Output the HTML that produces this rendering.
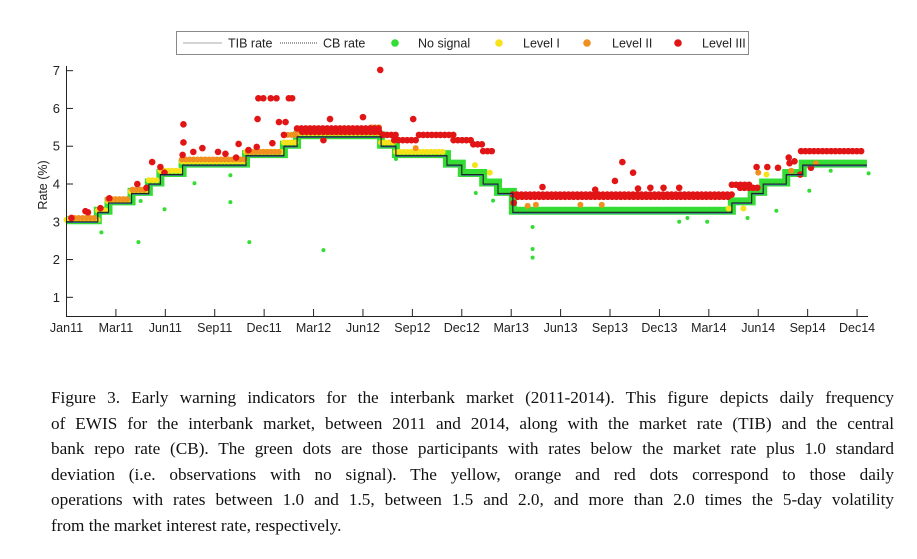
<!DOCTYPE html>
<html><head><meta charset="utf-8"><style>
body{margin:0;background:#fff;width:917px;height:559px;overflow:hidden;font-family:"Liberation Sans",sans-serif}
#cap{position:absolute;left:51px;top:385px;width:843px;font-family:"Liberation Serif",serif;font-size:17.2px;line-height:25.6px;color:#111}
#cap div{text-align:justify;text-align-last:justify;white-space:nowrap}
#cap div.last{text-align-last:left}
</style></head><body>
<svg id="chart" width="917" height="370" style="position:absolute;left:0;top:0" font-family="Liberation Sans, sans-serif"></svg>
<div id="cap">
<div>Figure 3. Early warning indicators for the interbank market (2011-2014). This figure depicts daily frequency</div>
<div>of EWIS for the interbank market, between 2011 and 2014, along with the market rate (TIB) and the central</div>
<div>bank repo rate (CB). The green dots are those participants with rates below the market rate plus 1.0 standard</div>
<div>deviation (i.e. observations with no signal). The yellow, orange and red dots correspond to those daily</div>
<div>operations with rates between 1.0 and 1.5, between 1.5 and 2.0, and more than 2.0 times the 5-day volatility</div>
<div class="last">from the market interest rate, respectively.</div>
</div>
<script>
const tickLabels=["Jan11","Mar11","Jun11","Sep11","Dec11","Mar12","Jun12","Sep12","Dec12","Mar13","Jun13","Sep13","Dec13","Mar14","Jun14","Sep14","Dec14"];
const yTicks=[1,2,3,4,5,6,7];
const cbStart=[0,1.9,2.55,3.95,5.0,5.7,7.05,10.9,13.2,14.0,19.1,20.0,23.1,24.0,25.3,26.2,27.1,40.4,41.6,42.3,43.7,44.7];
const cbRate=[3.0,3.25,3.5,3.75,4.0,4.25,4.5,4.75,5.0,5.25,5.0,4.75,4.5,4.25,4.0,3.75,3.25,3.5,3.75,4.0,4.25,4.5];
const cbEnd=48.6;
const redSegs=[[14.0,19.1,5.47],[14.3,19.1,5.38],[19.2,20.0,5.3],[19.9,21.4,5.16],[21.4,23.5,5.3],[23.5,24.7,5.16],[24.7,25.3,5.05],[25.3,25.9,4.87],[27.1,40.4,3.72],[27.4,40.2,3.66],[40.4,41.7,3.98],[40.9,42.0,3.9],[44.6,48.5,4.87]];
const redPts=[[0.3,3.1],[1.15,3.28],[1.3,3.25],[2.06,3.36],[2.6,3.62],[4.3,4.0],[4.86,3.9],[5.2,4.58],[5.7,4.45],[5.95,4.3],[7.1,5.58],[7.1,5.1],[7.05,4.77],[7.7,4.85],[8.25,4.95],[9.2,4.85],[9.65,4.8],[10.45,5.06],[10.3,4.7],[11.05,4.9],[11.6,5.72],[11.55,4.98],[12.5,5.08],[12.9,5.64],[13.3,5.64],[13.2,5.3],[16.0,5.72],[15.6,5.16],[18.0,5.77],[19.05,7.02],[21.05,5.72],[27.15,3.5],[28.9,3.92],[33.3,4.08],[33.75,4.58],[34.4,4.3],[41.9,4.45],[42.55,4.45],[43.2,4.43],[43.85,4.7],[44.55,4.25],[45.2,4.43],[11.65,6.27],[11.95,6.27],[12.4,6.27],[12.75,6.27],[13.5,6.27],[13.7,6.27],[35.45,3.9],[36.25,3.9],[37.2,3.9],[32.1,3.85],[34.7,3.88],[43.9,4.55],[44.2,4.6]];
const orangeSegs=[[0.5,1.8,3.1],[2.5,3.8,3.6],[4.0,4.8,3.85],[7.0,10.8,4.65],[11.0,13.0,4.85],[13.2,14.0,5.3],[14.0,19.1,5.42],[18.5,19.2,5.5]];
const orangePts=[[28.5,3.45],[31.2,3.45],[32.5,3.45],[28.0,3.42],[21.2,4.95],[42.0,4.3],[44.0,4.35],[45.5,4.55]];
const yellowSegs=[[0,1.9,3.05],[1.9,2.5,3.3],[2.5,3.9,3.55],[3.9,5.0,3.8],[5.0,5.7,4.1],[5.7,7.0,4.35],[7.0,10.9,4.6],[10.9,13.2,4.85],[13.2,14.0,5.1],[14.0,19.1,5.35],[19.1,20,5.1],[20,23,4.85]];
const yellowPts=[[40.2,3.35],[41.1,3.35],[24.8,4.5],[25.7,4.3],[42.5,4.25]];
const greenPts=[[2.12,2.72],[4.37,2.46],[4.5,3.55],[5.95,3.33],[7.77,4.02],[9.95,4.23],[9.95,3.52],[11.1,2.46],[15.6,2.25],[20.0,4.66],[24.85,3.76],[25.9,3.56],[28.3,2.86],[28.3,2.28],[28.3,2.05],[37.2,3.0],[37.7,3.1],[38.9,3.0],[41.35,3.1],[43.1,3.29],[45.1,3.82],[46.4,4.35],[48.7,4.28]];

const NS="http://www.w3.org/2000/svg",svg=document.getElementById('chart');
const X=t=>66.5+t*16.47, Y=v=>297.3-(v-1)*37.77;
function el(tag,attrs,parent){const e=document.createElementNS(NS,tag);for(const k in attrs)e.setAttribute(k,attrs[k]);(parent||svg).appendChild(e);return e;}
function stepPath(off){let d='';cbStart.forEach((s,i)=>{const e=i+1<cbStart.length?cbStart[i+1]:cbEnd;const y=Y(cbRate[i]+off);d+=(i?'L':'M')+X(s)+','+y+'L'+X(e)+','+y;});return d;}
const gb=el('path',{d:stepPath(0.04),fill:'none',stroke:'#33dd33','stroke-width':8,'stroke-linejoin':'miter'});


function segRow(segs,color,r,name){segs.forEach(s=>{const x0=X(s[0]),x1=X(s[1]);const l=el('line',{x1:x0,x2:x1,y1:Y(s[2]),y2:Y(s[2]),stroke:color,'stroke-width':r*2,'stroke-linecap':'round','stroke-dasharray':'0 '+(r*1.3)});

});}
function pts(arr,color,r,name){arr.forEach(p=>{const c=el('circle',{cx:X(p[0]),cy:Y(p[1]),r:r,fill:color});

});}
segRow(yellowSegs,'#f5e21a',3,'level-i-dots');
pts(yellowPts,'#f5e21a',3,'level-i-dot');
segRow(orangeSegs,'#ef9020',3,'level-ii-dots');
pts(orangePts,'#ef9020',3,'level-ii-dot');
segRow(redSegs,'#e11515',3.3,'level-iii-dots');
pts(redPts,'#e11515',3.3,'level-iii-dot');
pts(greenPts,'#33dd33',2,'no-signal-dot');
const tib=el('path',{d:stepPath(-0.02),fill:'none',stroke:'#3a6fb0','stroke-width':1});


const cb=el('path',{d:stepPath(0),fill:'none',stroke:'#222','stroke-width':1.1});


const ax=el('path',{d:'M66.5,66V316.5H868',fill:'none',stroke:'#222','stroke-width':1});


yTicks.forEach(v=>{el('line',{x1:66.5,x2:73,y1:Y(v),y2:Y(v),stroke:'#222'});const t=el('text',{x:60,y:Y(v)+4.5,'font-size':13,'text-anchor':'end',fill:'#222'});t.textContent=v;

});
tickLabels.forEach((lab,i)=>{const x=X(i*3);el('line',{x1:x,x2:x,y1:316.5,y2:309,stroke:'#222'});const t=el('text',{x:x,y:332,'font-size':12.5,'text-anchor':'middle',fill:'#222'});t.textContent=lab;

});
const yl=el('text',{transform:'translate(47,185) rotate(-90)','font-size':12.5,'text-anchor':'middle',fill:'#222'});yl.textContent='Rate (%)';


const lg=el('g',{});


el('rect',{x:176.5,y:31.5,width:572,height:23,fill:'#fff',stroke:'#888'},lg);
el('line',{x1:183,x2:222,y1:43,y2:43,stroke:'#aaa'},lg);
el('line',{x1:280,x2:318,y1:43,y2:43,stroke:'#444','stroke-dasharray':'1 1'},lg);
[[395,'#33dd33'],[499,'#f5e21a'],[587,'#ef9020'],[678,'#e11515']].forEach(d=>el('circle',{cx:d[0],cy:43,r:3.8,fill:d[1]},lg));
[[228,'TIB rate'],[323,'CB rate'],[418,'No signal'],[523,'Level I'],[612,'Level II'],[702,'Level III']].forEach(d=>{const t=el('text',{x:d[0],y:47.5,'font-size':12.5,fill:'#222'},lg);t.textContent=d[1];

});
</script>
</body></html>
